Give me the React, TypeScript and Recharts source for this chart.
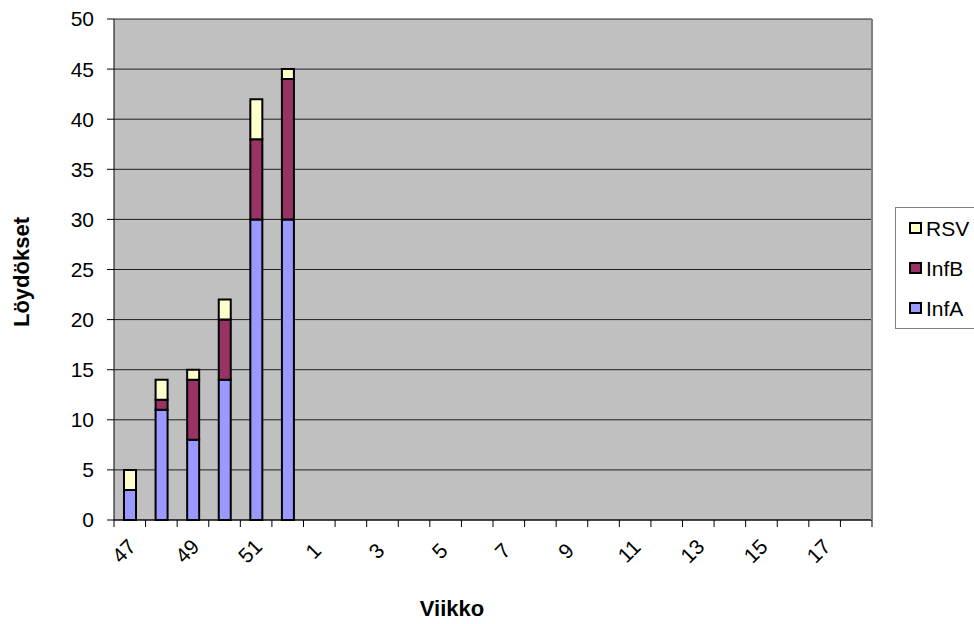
import React from 'react';
import { BarChart, Bar, XAxis, YAxis, CartesianGrid, Legend } from 'recharts';

const weeks = ['47', '48', '49', '50', '51', '52', '1', '2', '3', '4', '5', '6', '7', '8', '9', '10', '11', '12', '13', '14', '15', '16', '17', '18'];
const infA = [3, 11, 8, 14, 30, 30, null, null, null, null, null, null, null, null, null, null, null, null, null, null, null, null, null, null];
const infB = [0, 1, 6, 6, 8, 14, null, null, null, null, null, null, null, null, null, null, null, null, null, null, null, null, null, null];
const rsv = [2, 2, 1, 2, 4, 1, null, null, null, null, null, null, null, null, null, null, null, null, null, null, null, null, null, null];
const yTicks = [0, 5, 10, 15, 20, 25, 30, 35, 40, 45, 50];

const series = [
  { key: 'InfA', color: '#9999FF' },
  { key: 'InfB', color: '#993366' },
  { key: 'RSV', color: '#FFFFCC' },
];

const data = weeks.map((w, i) => ({ week: w, InfA: infA[i], InfB: infB[i], RSV: rsv[i] }));

const FONT = '"Liberation Sans", Arial, sans-serif';

const XTick = (props: any) => {
  const { x, y, payload, index } = props;
  const off = payload && payload.offset ? payload.offset : 0;
  const last = index === weeks.length - 1;
  const cx = x - 6;
  const cy = y + 31;
  return (
    <g>
      <line x1={x - off} x2={x - off} y1={y} y2={y + 7} stroke="#000" strokeWidth={1} />
      {last && <line x1={x + off} x2={x + off} y1={y} y2={y + 7} stroke="#000" strokeWidth={1} />}
      {index % 2 === 0 && (
        <text
          x={cx}
          y={cy}
          dy="0.35em"
          textAnchor="middle"
          transform={`rotate(-45, ${cx}, ${cy})`}
          fontFamily={FONT}
          fontSize={21}
          fill="#000"
        >
          {payload.value}
        </text>
      )}
    </g>
  );
};

const LegendContent = () => (
  <div
    style={{
      border: '1px solid #808080',
      borderRight: 'none',
      width: 79,
      height: 122,
      boxSizing: 'border-box',
      background: '#fff',
      fontFamily: FONT,
      fontSize: 21,
      paddingTop: 0,
    }}
  >
    {[...series].reverse().map((s) => (
      <div key={s.key} style={{ display: 'flex', alignItems: 'center', height: 40, paddingLeft: 13 }}>
        <span
          style={{
            display: 'inline-block',
            width: 13,
            height: 12,
            boxSizing: 'border-box',
            border: '2px solid #000',
            background: s.color,
            marginRight: 4,
          }}
        />
        <span style={{ lineHeight: '21px' }}>{s.key}</span>
      </div>
    ))}
  </div>
);

export default function App() {
  return (
    <div style={{ position: 'absolute', left: 0, top: 0, width: 974, height: 624, background: '#fff', overflow: 'hidden' }}>
      <BarChart
        width={974}
        height={624}
        data={data}
        margin={{ top: 19, right: 101, left: 0, bottom: 0 }}
        barSize={12}
      >
        <CartesianGrid vertical={false} fill="#C0C0C0" stroke="#000" strokeOpacity={0.85} />
        <XAxis
          dataKey="week"
          type="category"
          interval={0}
          height={104}
          tickSize={0}
          tickMargin={0}
          tickLine={false}
          axisLine={{ stroke: '#000', strokeWidth: 1 }}
          tick={<XTick />}
          label={{
            content: () => (
              <text x={452} y={616} textAnchor="middle" fontFamily={FONT} fontSize={22} fontWeight="bold" fill="#000">
                Viikko
              </text>
            ),
          }}
        />
        <XAxis xAxisId="top" dataKey="week" orientation="top" height={0} tick={false} tickLine={false} axisLine={{ stroke: '#808080', strokeWidth: 2 }} />
        <YAxis
          domain={[0, 50]}
          ticks={yTicks}
          width={114}
          tickSize={7}
          tickMargin={13}
          axisLine={{ stroke: '#000', strokeWidth: 1 }}
          tickLine={{ stroke: '#000' }}
          tick={{ fontFamily: FONT, fontSize: 21, fill: '#000' }}
          label={{
            content: () => (
              <text
                x={29}
                y={272}
                textAnchor="middle"
                transform="rotate(-90, 29, 272)"
                fontFamily={FONT}
                fontSize={22}
                fontWeight="bold"
                fill="#000"
              >
                Löydökset
              </text>
            ),
          }}
        />
        <YAxis yAxisId="right" orientation="right" width={1} domain={[0, 50]} tick={false} tickLine={false} axisLine={{ stroke: '#808080', strokeWidth: 2 }} />
        <Legend
          layout="horizontal"
          verticalAlign="middle"
          align="center"
          content={<LegendContent />}
          wrapperStyle={{ position: 'absolute', left: 895, top: 207, width: 79, height: 122 }}
        />
        {series.map((s) => (
          <Bar key={s.key} dataKey={s.key} stackId="a" fill={s.color} stroke="#000" strokeWidth={2} isAnimationActive={false} />
        ))}
      </BarChart>
    </div>
  );
}
